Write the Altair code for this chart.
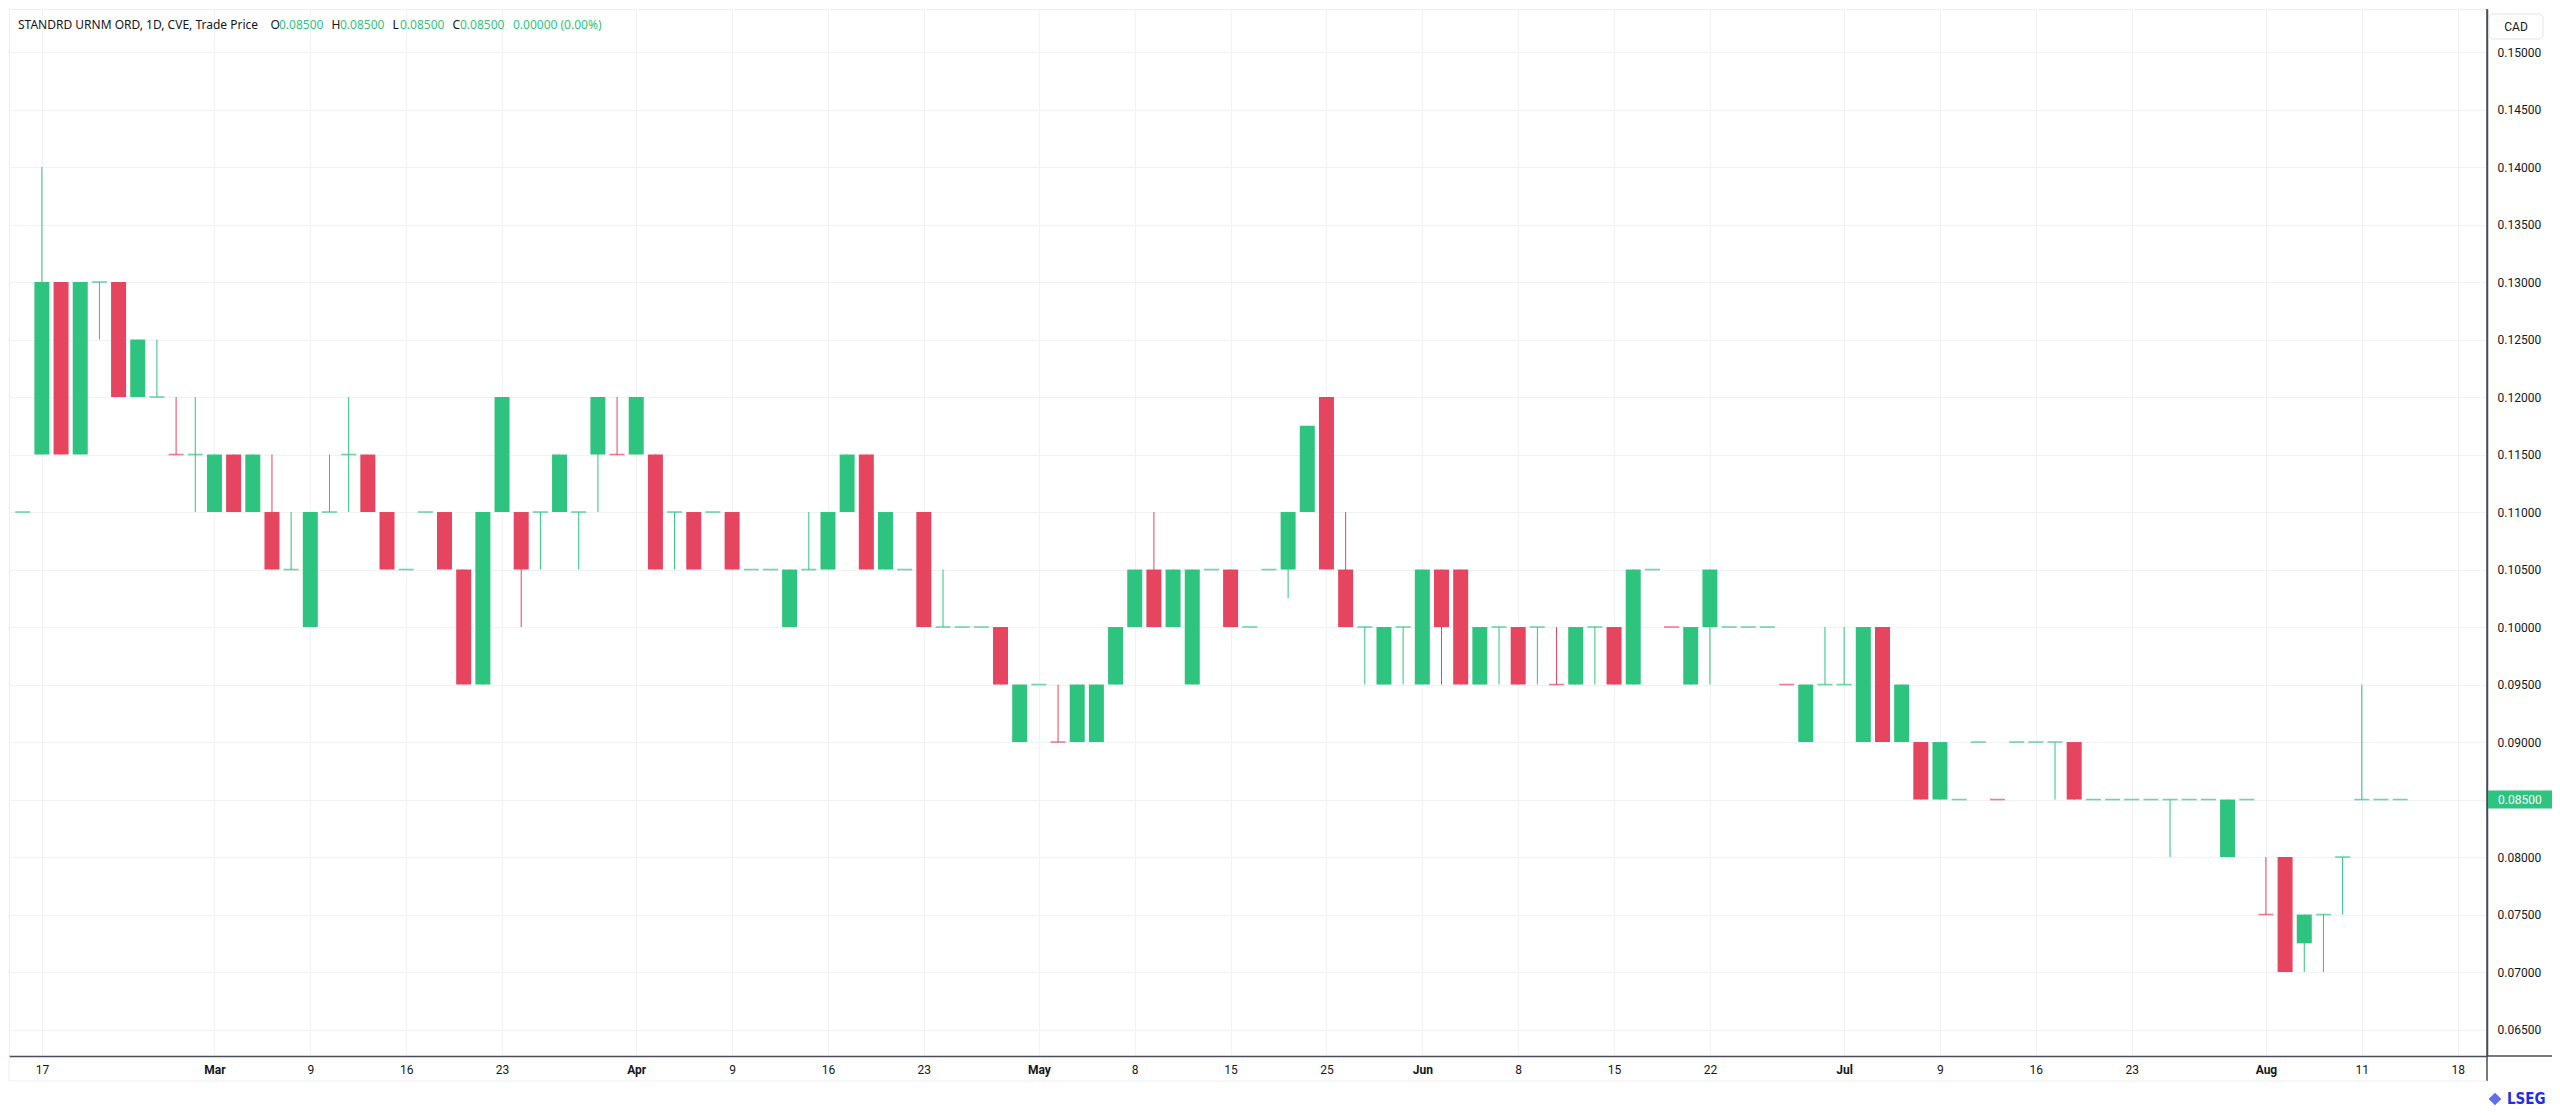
import altair as alt
import pandas as pd

# ---------------- data ----------------
bar_idx = list(range(-1, 124))  # trading-day index, 0 = Feb 17

opens = [0.11, 0.115, 0.13, 0.115, 0.13, 0.13, 0.12, 0.12, 0.115, 0.115,
         0.11, 0.115, 0.11, 0.11, 0.105, 0.10, 0.11, 0.115, 0.115, 0.11,
         0.105, 0.11, 0.11, 0.105, 0.095, 0.11, 0.11, 0.11, 0.11, 0.11,
         0.115, 0.115, 0.115, 0.115, 0.11, 0.11, 0.11, 0.11, 0.105, 0.105,
         0.10, 0.105, 0.105, 0.11, 0.115, 0.105, 0.105, 0.11, 0.10, 0.10,
         0.10, 0.10, 0.09, 0.095, 0.09, 0.09, 0.09, 0.095, 0.10, 0.105,
         0.10, 0.095, 0.105, 0.105, 0.10, 0.105, 0.105, 0.11, 0.12, 0.105,
         0.10, 0.095, 0.10, 0.095, 0.105, 0.105, 0.095, 0.10, 0.10, 0.10,
         0.095, 0.095, 0.10, 0.10, 0.095, 0.105, 0.10, 0.095, 0.10, 0.10,
         0.10, 0.10, 0.095, 0.09, 0.095, 0.095, 0.09, 0.10, 0.09, 0.09,
         0.085, 0.085, 0.09, 0.085, 0.09, 0.09, 0.09, 0.09, 0.085, 0.085,
         0.085, 0.085, 0.085, 0.085, 0.085, 0.08, 0.085, 0.075, 0.08, 0.0725,
         0.075, 0.08, 0.085, 0.085, 0.085]
highs = [0.11, 0.14, 0.13, 0.13, 0.13, 0.13, 0.125, 0.125, 0.12, 0.12,
         0.115, 0.115, 0.115, 0.115, 0.11, 0.11, 0.115, 0.12, 0.115, 0.11,
         0.105, 0.11, 0.11, 0.105, 0.11, 0.12, 0.11, 0.11, 0.115, 0.11,
         0.12, 0.12, 0.12, 0.115, 0.11, 0.11, 0.11, 0.11, 0.105, 0.105,
         0.105, 0.11, 0.11, 0.115, 0.115, 0.11, 0.105, 0.11, 0.105, 0.10,
         0.10, 0.10, 0.095, 0.095, 0.095, 0.095, 0.095, 0.10, 0.105, 0.11,
         0.105, 0.105, 0.105, 0.105, 0.10, 0.105, 0.11, 0.1175, 0.12, 0.11,
         0.10, 0.10, 0.10, 0.105, 0.105, 0.105, 0.10, 0.10, 0.10, 0.10,
         0.10, 0.10, 0.10, 0.10, 0.105, 0.105, 0.10, 0.10, 0.105, 0.10,
         0.10, 0.10, 0.095, 0.095, 0.10, 0.10, 0.10, 0.10, 0.095, 0.09,
         0.09, 0.085, 0.09, 0.085, 0.09, 0.09, 0.09, 0.09, 0.085, 0.085,
         0.085, 0.085, 0.085, 0.085, 0.085, 0.085, 0.085, 0.08, 0.08, 0.075,
         0.075, 0.08, 0.095, 0.085, 0.085]
lows = [0.11, 0.115, 0.115, 0.115, 0.125, 0.12, 0.12, 0.12, 0.115, 0.11,
        0.11, 0.11, 0.11, 0.105, 0.105, 0.10, 0.11, 0.11, 0.11, 0.105,
        0.105, 0.11, 0.105, 0.095, 0.095, 0.11, 0.10, 0.105, 0.11, 0.105,
        0.11, 0.115, 0.115, 0.105, 0.105, 0.105, 0.11, 0.105, 0.105, 0.105,
        0.10, 0.105, 0.105, 0.11, 0.105, 0.105, 0.105, 0.10, 0.10, 0.10,
        0.10, 0.095, 0.09, 0.095, 0.09, 0.09, 0.09, 0.095, 0.10, 0.10,
        0.10, 0.095, 0.105, 0.10, 0.10, 0.105, 0.1025, 0.11, 0.105, 0.10,
        0.095, 0.095, 0.095, 0.095, 0.095, 0.095, 0.095, 0.095, 0.095, 0.095,
        0.095, 0.095, 0.095, 0.095, 0.095, 0.105, 0.10, 0.095, 0.095, 0.10,
        0.10, 0.10, 0.095, 0.09, 0.095, 0.095, 0.09, 0.09, 0.09, 0.085,
        0.085, 0.085, 0.09, 0.085, 0.09, 0.09, 0.085, 0.085, 0.085, 0.085,
        0.085, 0.085, 0.08, 0.085, 0.085, 0.08, 0.085, 0.075, 0.07, 0.07,
        0.07, 0.075, 0.085, 0.085, 0.085]
closes = [0.11, 0.13, 0.115, 0.13, 0.13, 0.12, 0.125, 0.12, 0.115, 0.115,
          0.115, 0.11, 0.115, 0.105, 0.105, 0.11, 0.11, 0.115, 0.11, 0.105,
          0.105, 0.11, 0.105, 0.095, 0.11, 0.12, 0.105, 0.11, 0.115, 0.11,
          0.12, 0.115, 0.12, 0.105, 0.11, 0.105, 0.11, 0.105, 0.105, 0.105,
          0.105, 0.105, 0.11, 0.115, 0.105, 0.11, 0.105, 0.10, 0.10, 0.10,
          0.10, 0.095, 0.095, 0.095, 0.09, 0.095, 0.095, 0.10, 0.105, 0.10,
          0.105, 0.105, 0.105, 0.10, 0.10, 0.105, 0.11, 0.1175, 0.105, 0.10,
          0.10, 0.10, 0.10, 0.105, 0.10, 0.095, 0.10, 0.10, 0.095, 0.10,
          0.095, 0.10, 0.10, 0.095, 0.105, 0.105, 0.10, 0.10, 0.105, 0.10,
          0.10, 0.10, 0.095, 0.095, 0.095, 0.095, 0.10, 0.09, 0.095, 0.085,
          0.09, 0.085, 0.09, 0.085, 0.09, 0.09, 0.09, 0.085, 0.085, 0.085,
          0.085, 0.085, 0.085, 0.085, 0.085, 0.085, 0.085, 0.075, 0.07, 0.075,
          0.075, 0.08, 0.085, 0.085, 0.085]
red_doji_idx = [7, 30, 53, 79, 85, 91, 102, 116]

tick_idx = [0, 9, 14, 19, 24, 31, 36, 41, 46, 52, 57, 62, 67, 72, 77, 82,
            87, 94, 99, 104, 109, 116, 121, 126]
tick_labels = ["17", "Mar", "9", "16", "23", "Apr", "9", "16", "23", "May",
               "8", "15", "25", "Jun", "8", "15", "22", "Jul", "9", "16",
               "23", "Aug", "11", "18"]
month_idx = [9, 31, 52, 72, 94, 116]
price_ticks = [0.065, 0.07, 0.075, 0.08, 0.085, 0.09, 0.095, 0.10, 0.105,
               0.11, 0.115, 0.12, 0.125, 0.13, 0.135, 0.14, 0.145, 0.15]

symbol_title = "STANDRD URNM ORD, 1D, CVE, Trade Price"
currency = "CAD"
brand = "LSEG"

# ---------------- styles ----------------
UP = "#2ec47f"
DOWN = "#e5455f"
TXT = "#131722"
GRID = "#f0f2f6"
AXIS = "#4a4d57"
FONT = "Roboto"
HFONT = "Noto Sans"
W, H = 2478, 1047

df = pd.DataFrame({"idx": bar_idx, "open": opens, "high": highs,
                   "low": lows, "close": closes})
df["dir"] = ["down" if (c < o or i in red_doji_idx) else "up"
             for i, o, c in zip(df["idx"], df["open"], df["close"])]

xscale = alt.Scale(domain=[-1.455, 127.27], nice=False, zero=False)
yscale = alt.Scale(domain=[0.0627, 0.15374], nice=False, zero=False)

label_expr = f"{tick_labels}[indexof({tick_idx}, datum.value)]"
month_test = f"indexof({month_idx}, datum.value) >= 0"

xaxis = alt.Axis(values=tick_idx, labelExpr=label_expr, title=None,
                 grid=True, gridColor=GRID, gridWidth=1,
                 domainColor=AXIS, domainWidth=1.5, ticks=False,
                 labelPadding=8, labelFontSize=12, labelColor=TXT,
                 labelFont=FONT, labelFlush=False, labelOverlap=False,
                 labelFontWeight={"condition": {"test": month_test, "value": "bold"},
                                  "value": "normal"})
yaxis = alt.Axis(orient="right", values=price_ticks, format=".5f", title=None,
                 grid=True, gridColor=GRID, gridWidth=1,
                 domainColor=AXIS, domainWidth=1.5, ticks=False,
                 labelPadding=10, labelFontSize=12, labelColor=TXT,
                 labelFont=FONT, labelFlush=False, labelOverlap=False)

color = alt.Color("dir:N", scale=alt.Scale(domain=["up", "down"], range=[UP, DOWN]),
                  legend=None)
X = alt.X("idx:Q", scale=xscale, axis=xaxis)

base = alt.Chart(df)

wicks = base.mark_rule(strokeWidth=1, clip=True).encode(
    x=X,
    y=alt.Y("low:Q", scale=yscale, axis=yaxis),
    y2="high:Q",
    color=color,
)
bodies = base.transform_filter("datum.open != datum.close").mark_bar(
    size=15, clip=True).encode(
    x=X,
    y=alt.Y("open:Q", scale=yscale, axis=yaxis),
    y2="close:Q",
    color=color,
)
flats = base.transform_filter("datum.open == datum.close").mark_tick(
    orient="horizontal", size=15, thickness=1.6, clip=True).encode(
    x=X,
    y=alt.Y("close:Q", scale=yscale, axis=yaxis),
    color=color,
)

# last price tag on the price scale
last = df.tail(1)
tag = alt.Chart(last).mark_rect(color=UP, yOffset=-9, y2Offset=9).encode(
    x=alt.value(W + 1), x2=alt.value(W + 66),
    y=alt.Y("close:Q", scale=yscale, axis=yaxis), y2="close:Q",
)
tag_text = alt.Chart(last).mark_text(
    align="left", baseline="middle", color="white", fontSize=12, font=FONT
).encode(
    x=alt.value(W + 11),
    y=alt.Y("close:Q", scale=yscale, axis=yaxis),
    text=alt.Text("close:Q", format=".5f"),
)

# header legend line
o_last, h_last, l_last, c_last = opens[-1], highs[-1], lows[-1], closes[-1]
chg = c_last - closes[-2]
pct = chg / closes[-2] * 100
header = pd.DataFrame({
    "t": [symbol_title, "O", f"{o_last:.5f}", "H", f"{h_last:.5f}",
          "L", f"{l_last:.5f}", "C", f"{c_last:.5f}", f"{chg:.5f} ({pct:.2f}%)"],
    "px": [9, 261.5, 270, 322.5, 331, 383.5, 391, 443.5, 451, 504],
    "kind": ["k", "k", "g", "k", "g", "k", "g", "k", "g", "g"],
})
header_text = alt.Chart(header).mark_text(
    align="left", baseline="middle", fontSize=12, font=HFONT
).encode(
    x=alt.X("px:Q", scale=None, axis=None),
    y=alt.value(16),
    text="t:N",
    color=alt.Color("kind:N", scale=alt.Scale(domain=["k", "g"], range=[TXT, UP]),
                    legend=None),
)

one = pd.DataFrame({"a": [0]})
cad_box = alt.Chart(one).mark_rect(fill="white", stroke="#e0e3eb", strokeWidth=1,
                                   cornerRadius=4).encode(
    x=alt.value(W + 2), x2=alt.value(W + 56), y=alt.value(5), y2=alt.value(30))
cad_text = alt.Chart(one).mark_text(align="center", baseline="middle", fontSize=12,
                                    font=FONT, color=TXT).encode(
    x=alt.value(W + 29), y=alt.value(18), text=alt.value(currency))

axis_ext_v = alt.Chart(one).mark_rule(color=AXIS, strokeWidth=1.5).encode(
    x=alt.value(W), y=alt.value(0), y2=alt.value(H + 25))
axis_ext_h = alt.Chart(one).mark_rule(color=AXIS, strokeWidth=1.5).encode(
    x=alt.value(W), x2=alt.value(W + 66), y=alt.value(H))
panel_bottom = alt.Chart(one).mark_rule(color="#eceef2", strokeWidth=1).encode(
    x=alt.value(0), x2=alt.value(W), y=alt.value(H + 25))
panel_left = alt.Chart(one).mark_rule(color="#eceef2", strokeWidth=1).encode(
    x=alt.value(0), y=alt.value(H), y2=alt.value(H + 25))
brand_text = alt.Chart(one).mark_text(align="left", baseline="middle", fontSize=15,
                                      fontWeight="bold", font="DejaVu Sans Condensed",
                                      color="#1d2fe5").encode(
    x=alt.value(W + 20), y=alt.value(H + 43), text=alt.value(brand))
brand_icon = alt.Chart(one).mark_point(shape="diamond", filled=True, size=160,
                                       color="#1d2fe5").encode(
    x=alt.value(W + 8), y=alt.value(H + 43))

chart = alt.layer(
    wicks, bodies, flats, tag, tag_text, header_text, cad_box, cad_text,
    axis_ext_v, axis_ext_h, panel_bottom, panel_left, brand_icon, brand_text,
).resolve_scale(color="independent").properties(
    width=W, height=H,
    autosize=alt.AutoSizeParams(type="none"),
    padding={"left": 1, "top": 1, "right": 65, "bottom": 51},
    background="white",
).configure_view(stroke="#eceef2", strokeWidth=1)

chart.save("out.html", embed_options={"renderer": "svg", "actions": False})
